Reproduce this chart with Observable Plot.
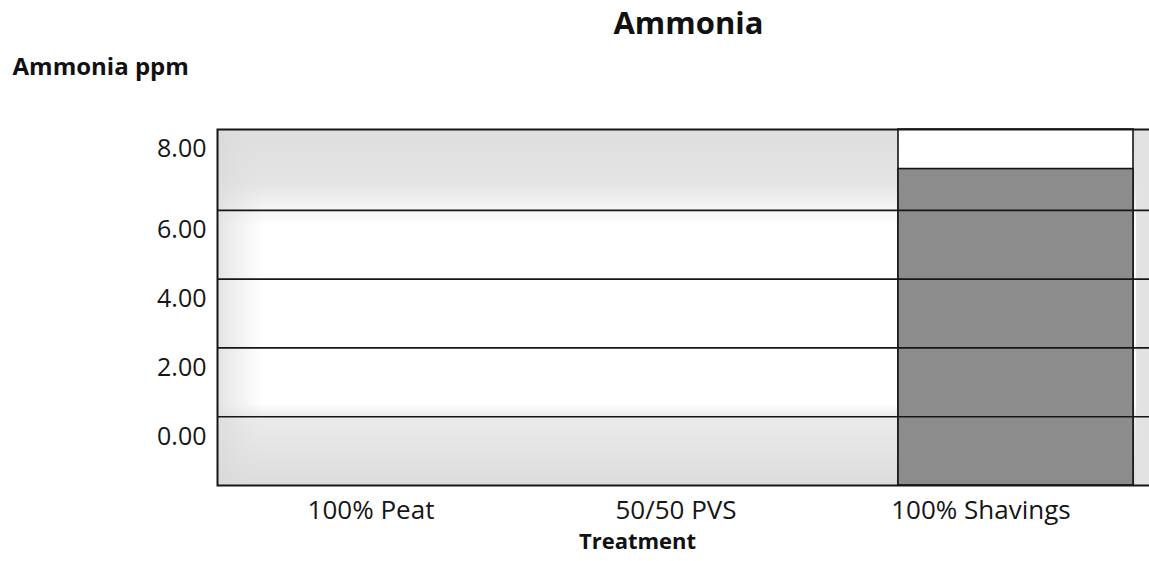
<!DOCTYPE html>
<html>
<head>
<meta charset="utf-8">
<script src="https://cdn.jsdelivr.net/npm/d3@7"></script>
<script src="https://cdn.jsdelivr.net/npm/@observablehq/plot@0.6"></script>
<style>
  html, body { margin: 0; padding: 0; background: #fff; overflow: hidden; }
  #chart { width: 1149px; height: 561px; }
</style>
</head>
<body>
<div id="chart"></div>
<script>
// ---- data ----
const categories = ["100% Peat", "50/50 PVS", "100% Shavings"];
const ammoniaPpm = [0, 0, 7.2];
const yTicks = [0, 2, 4, 6, 8];
const gridTicks = [0, 2, 4, 6];
const yDomain = [-2, 8.35];
const chartTitle = "Ammonia";
const yTitle = "Ammonia ppm";
const xTitle = "Treatment";

const data = categories.map((c, i) => ({treatment: c, ppm: ammoniaPpm[i]}));
const nonZero = data.filter(d => d.ppm > 0);

const W = 1149, H = 561;
const ink = "#161616";
const fmt = d => d.toFixed(2);

const plot = Plot.plot({
  width: W,
  height: H,
  marginLeft: 217,
  marginRight: -3,
  marginTop: 129,
  marginBottom: 76,
  style: {fontFamily: "'Open Sans', sans-serif", color: ink, background: "white"},
  x: {domain: categories, range: [217, 1134], paddingInner: 0, paddingOuter: 0, label: null},
  y: {domain: yDomain, label: null},
  marks: [
    Plot.frame({fill: "url(#bgV)"}),
    Plot.frame({fill: "url(#bgH)"}),
    Plot.barY(nonZero, {x: "treatment", y1: yDomain[0], y2: yDomain[1], fill: "white", stroke: ink, strokeWidth: 1.6, insetLeft: 70}),
    Plot.barY(nonZero, {x: "treatment", y1: yDomain[0], y2: "ppm", fill: "#8c8c8c", stroke: ink, strokeWidth: 1.6, insetLeft: 70}),
    Plot.ruleY(gridTicks, {stroke: ink, strokeWidth: 1.6}),
    Plot.frame({stroke: ink, strokeWidth: 2}),
    Plot.axisY(yTicks.filter(t => t < 8), {tickSize: 0, tickPadding: 11, dy: 20, tickFormat: fmt, fontSize: 25, fill: ink, label: null}),
    Plot.axisY(yTicks.filter(t => t >= 8), {tickSize: 0, tickPadding: 11, dy: 7, tickFormat: fmt, fontSize: 25, fill: ink, label: null}),
    Plot.axisX({tickSize: 0, tickPadding: 15, fontSize: 26, fill: ink, label: null}),
    Plot.text([chartTitle], {frameAnchor: "top", dx: 3.5, dy: -105, lineAnchor: "middle", fontSize: 31, fontWeight: "bold", fill: "#111"}),
    Plot.text([yTitle], {frameAnchor: "top-left", dx: -205, dy: -62, textAnchor: "start", lineAnchor: "middle", fontSize: 24, fontWeight: "bold", fill: "#111"}),
    Plot.text([xTitle], {frameAnchor: "bottom", dx: -47.5, dy: 56, lineAnchor: "middle", fontSize: 22, fontWeight: "bold", fill: "#111"})
  ]
});

// gradients for the scanned-looking background
const svg = d3.select(plot);
const defs = svg.insert("defs", ":first-child");
const gv = defs.append("linearGradient").attr("id", "bgV").attr("x1", 0).attr("y1", 0).attr("x2", 0).attr("y2", 1);
[[0, "#dedede"], [0.15, "#e4e4e4"], [0.21, "#f2f2f2"], [0.27, "#ffffff"], [0.77, "#ffffff"], [0.81, "#ebebeb"], [1, "#dcdcdc"]]
  .forEach(([o, c]) => gv.append("stop").attr("offset", o).attr("stop-color", c));
const gh = defs.append("linearGradient").attr("id", "bgH").attr("x1", 0).attr("y1", 0).attr("x2", 1).attr("y2", 0);
[[0, "#d8d8d8", 0.7], [0.05, "#e0e0e0", 0], [0.982, "#e0e0e0", 0], [0.983, "#e2e2e2", 1], [1, "#e2e2e2", 1]]
  .forEach(([o, c, a]) => gh.append("stop").attr("offset", o).attr("stop-color", c).attr("stop-opacity", a));

document.getElementById("chart").appendChild(plot);
</script>
</body>
</html>
